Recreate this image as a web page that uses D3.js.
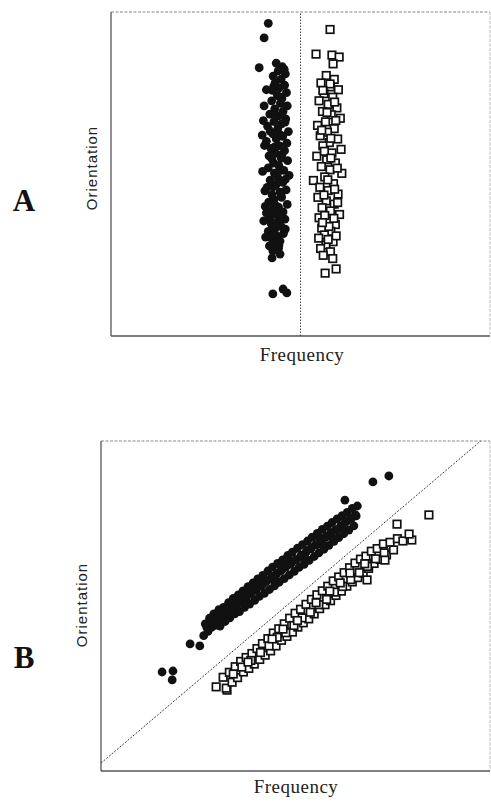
<!DOCTYPE html>
<html>
<head>
<meta charset="utf-8">
<script src="https://cdn.jsdelivr.net/npm/d3@7"></script>
<style>
  body { margin: 0; background: #fff; }
  svg { display: block; }
</style>
</head>
<body>
<div id="chart"></div>
<script>
// panel A: orientation vs frequency, two separated columns
const panelACircles = [
  [41.5,96.5],[40.4,92.0],[39.1,82.8],
  [43.6,84.2],[45.2,83.1],[44.1,81.8],[46.0,80.9],[42.8,80.2],[44.9,79.3],[43.3,78.1],[45.8,77.4],[44.4,76.6],[42.6,75.8],
  [46.3,75.1],[43.9,74.2],[45.1,73.3],[42.4,72.6],[44.7,71.8],[46.5,71.0],[43.2,70.1],[45.4,69.3],[41.9,68.5],[44.2,67.9],
  [46.1,67.0],[43.0,66.2],[45.0,65.5],[41.3,64.8],[44.0,64.0],[46.8,63.1],[42.7,62.4],[45.3,61.6],[43.6,60.8],[41.0,60.1],
  [46.4,59.5],[44.5,58.7],[42.2,57.9],[45.8,57.2],[43.4,56.4],[41.7,55.6],[44.9,54.9],[46.6,54.1],[42.9,53.4],[44.3,52.6],
  [41.5,51.9],[45.6,51.1],[43.1,50.3],[47.0,49.6],[44.0,48.9],[42.0,48.1],[45.3,47.4],[43.5,46.6],[41.2,45.9],[46.2,45.1],
  [44.6,44.4],[42.5,43.6],[45.0,42.8],[43.0,42.1],[41.6,41.3],[46.5,40.6],[44.2,39.8],[42.7,39.1],[45.4,38.3],[43.6,37.6],
  [41.9,36.8],[45.9,36.1],[44.1,35.3],[42.3,34.6],[44.9,33.8],[43.3,33.1],[41.5,32.3],[45.5,31.6],[43.8,30.8],[42.4,30.1],
  [44.6,29.3],[43.0,28.5],[41.8,27.8],[44.2,27.0],[42.7,26.3],[44.6,25.3],[42.5,24.1],
  [45.7,82.3],[42.9,77.0],[44.6,73.8],[43.0,68.8],[45.9,66.0],[42.0,63.2],[44.8,62.0],[43.1,58.3],[45.1,56.0],[42.4,54.8],
  [44.0,50.5],[46.0,48.3],[42.8,46.0],[44.9,43.2],[43.5,40.2],[41.0,38.0],[44.7,36.7],[43.0,35.0],[46.0,33.0],[42.8,31.2],
  [44.3,28.0],
  [40.2,66.5],[40.5,58.8],[40.0,50.8],[40.6,44.8],[40.3,35.5],[40.8,30.5],[39.9,62.0],[40.4,71.0],[41.0,76.0],[40.7,40.0],
  [42.7,13.0],[45.4,14.5],[46.4,13.3]
];

const panelASquares = [
  [57.8,94.6],[54.1,87.0],[58.3,86.7],[60.2,86.1],[58.6,84.0],
  [56.8,80.4],[58.9,79.2],[55.4,78.1],[57.9,76.9],[60.0,76.0],[56.2,74.8],[58.5,73.7],[54.9,72.6],[57.3,71.5],[59.6,70.4],
  [55.8,69.3],[58.1,68.3],[60.5,67.2],[56.6,66.1],[54.5,65.0],[58.9,64.0],[57.1,62.9],[55.2,61.8],[59.8,60.8],[57.6,59.7],
  [55.9,58.7],[60.7,57.6],[58.3,56.5],[54.3,55.5],[56.9,54.4],[59.2,53.4],[55.5,52.3],[57.8,51.3],[60.9,50.2],[56.4,49.1],
  [53.4,48.0],[58.7,47.0],[55.1,45.9],[57.3,44.9],[59.9,43.8],[54.6,42.8],[56.8,41.7],[58.9,40.7],[55.7,39.6],[57.9,38.6],
  [60.3,37.5],[54.9,36.5],[57.1,35.4],[59.2,34.4],[55.6,33.3],[58.0,32.3],[56.3,31.2],[54.8,30.2],[58.6,29.1],[56.7,28.1],
  [55.3,27.0],[57.9,26.0],[56.0,24.9],[58.5,23.9],
  [57.8,77.8],[55.9,75.8],[59.0,72.2],[57.0,69.0],[59.3,66.5],[55.6,63.5],[58.0,61.0],[56.3,57.0],[58.0,54.9],[59.7,51.8],
  [57.2,48.2],[59.0,45.3],[56.2,43.5],[59.8,41.2],[56.4,37.2],[58.8,36.3],[57.5,33.8],[59.4,30.9],[57.3,29.8],[55.8,35.0],
  [56.5,19.4],[59.4,20.7]
];

// panel B: both groups drift with frequency, either side of the diagonal
const panelBCircles = [
  [15.7,30.0],[18.5,30.3],[18.3,27.6],[22.9,38.5],[25.4,37.9],
  [26.4,41.0],[26.8,44.6],[27.5,42.3],[27.9,46.3],[28.4,43.5],[29.0,47.6],[29.3,44.1],[29.8,45.9],[30.3,48.9],[30.6,43.9],
  [31.1,46.2],[31.5,49.6],[31.9,45.3],[32.3,47.6],[32.8,51.0],[33.1,46.4],[33.6,48.8],[34.0,52.3],[34.4,47.6],[34.8,50.2],
  [35.3,53.4],[35.6,48.3],[36.1,51.2],[36.5,54.6],[36.9,49.6],[37.3,52.3],[37.8,55.9],[38.2,50.6],[38.6,53.8],[39.1,57.0],
  [39.5,51.7],[39.9,54.9],[40.3,58.2],[40.7,52.9],[41.2,56.0],[41.6,59.3],[42.0,53.8],[42.4,57.4],[42.9,60.6],[43.3,55.0],
  [43.7,58.3],[44.1,61.8],[44.6,56.1],[45.0,59.4],[45.4,62.9],[45.8,57.2],[46.3,60.7],[46.7,64.0],[47.1,58.3],[47.5,61.8],
  [48.0,65.3],[48.4,59.4],[48.8,62.7],[49.2,66.3],[49.7,60.5],[50.1,64.0],[50.5,67.5],[50.9,61.7],[51.4,65.2],[51.8,68.6],
  [52.2,62.6],[52.6,66.1],[53.1,69.7],[53.5,63.8],[53.9,67.3],[54.3,70.9],[54.8,65.0],[55.2,68.6],[55.6,72.0],[56.0,66.1],
  [56.5,69.7],[56.9,73.2],[57.3,67.2],[57.7,70.8],[58.2,74.2],[58.6,68.4],[59.0,72.0],[59.4,75.3],[59.9,69.6],[60.3,73.1],
  [60.7,76.4],[61.1,70.7],[61.6,74.2],[62.0,77.4],[62.4,71.9],[62.8,75.5],[63.3,78.4],[63.7,73.0],[64.1,76.5],[64.6,79.6],
  [65.0,74.3],[65.4,77.6],[65.9,80.3],
  [27.2,43.5],[28.7,45.3],[30.0,47.0],[31.3,47.9],[32.6,49.0],[33.9,49.7],[35.1,51.4],[36.3,52.2],[37.6,53.2],[38.9,54.7],
  [40.1,55.7],[41.4,56.4],[42.7,57.6],[44.0,59.0],[45.2,59.9],[46.5,61.0],[47.8,62.4],[49.0,63.4],[50.3,64.1],[51.6,65.4],
  [52.9,66.8],[54.1,67.7],[55.4,68.5],[56.7,69.8],[58.0,71.2],[59.2,72.2],[60.5,73.0],[61.8,74.0],[63.0,75.5],[64.3,76.4],
  [65.6,77.3],
  [33.5,50.8],[37.0,54.0],[41.0,57.8],[44.8,58.0],[48.2,64.5],[52.4,64.0],[55.9,71.0],[59.6,70.5],[62.6,73.0],[46.0,62.5],
  [39.8,56.5],[57.0,68.5],
  [62.7,82.1],[69.9,87.6],[74.0,89.4]
];

const panelBSquares = [
  [29.6,25.5],[32.4,24.5],
  [31.4,28.4],[32.2,25.1],[33.0,29.9],[33.7,26.9],[34.5,31.6],[35.1,28.3],[35.9,33.2],[36.6,30.0],[37.3,34.4],[38.0,31.1],
  [38.8,35.6],[39.4,32.4],[40.1,37.1],[40.8,33.8],[41.5,38.6],[42.2,35.1],[42.9,40.1],[43.6,36.4],[44.3,41.8],[45.0,37.9],
  [45.7,43.1],[46.4,39.6],[47.1,44.6],[47.8,40.8],[48.5,46.3],[49.2,42.1],[49.9,47.8],[50.6,43.6],[51.3,49.0],[52.0,44.9],
  [52.7,50.5],[53.4,46.1],[54.1,52.0],[54.8,47.6],[55.5,53.4],[56.2,49.2],[56.9,54.6],[57.6,50.4],[58.3,56.0],[59.0,51.6],
  [59.7,57.6],[60.4,53.2],[61.1,58.8],[61.8,54.5],[62.5,60.1],[63.2,56.0],[63.9,61.6],[64.6,57.3],[65.3,63.0],[66.0,58.6],
  [66.7,64.2],[67.4,60.0],[68.1,65.1],[68.8,61.4],[69.5,66.6],[70.2,62.9],[71.0,67.4],[71.8,64.1],[72.6,68.8],[73.4,65.5],
  [74.3,69.3],[75.2,67.0],[76.2,70.4],
  [34.0,29.4],[36.2,31.5],[38.5,33.5],[41.0,35.9],[43.2,37.9],[45.3,40.5],[47.5,41.9],[49.6,44.1],[51.7,46.4],[53.8,48.1],
  [56.0,50.4],[58.0,52.0],[60.0,54.2],[62.1,55.9],[64.2,58.0],[66.4,60.1],[68.5,62.0],[70.6,64.3],[72.8,66.1],
  [37.8,33.0],[44.0,40.0],[50.5,45.6],[55.3,51.0],[61.5,57.0],[67.8,62.8],[46.8,43.0],[58.8,54.5],[64.0,60.0],
  [68.4,57.9],[73.0,63.9],[77.6,69.7],[79.9,70.0],[79.2,71.8],[76.1,74.8],[84.3,77.6]
];

const panelAMidline = [[50, 0], [50, 100]];
const panelBDiagonal = [[0, 2.4], [97.6, 100]];

const panelLetters = ["A", "B"];
const xLabel = "Frequency";
const yLabel = "Orientation";

let width = 491;
let height = 803;

let svg = d3.select("#chart").append("svg")
    .attr("width", width)
    .attr("height", height);

let panels = [
    { letter: panelLetters[0], left: 111, right: 490, top: 12, bottom: 336,
      circles: panelACircles, squares: panelASquares, ref: panelAMidline,
      refDash: "1.5,1.5", letterY: 211, yLabelX: 97, yLabelY: 168, xLabelX: 302, xLabelY: 361 },
    { letter: panelLetters[1], left: 101, right: 490, top: 441, bottom: 771,
      circles: panelBCircles, squares: panelBSquares, ref: panelBDiagonal,
      refDash: "2,1.5", letterY: 668, yLabelX: 87, yLabelY: 605, xLabelX: 296, xLabelY: 793 }
];

panels.forEach(p => {
    let x = d3.scaleLinear().domain([0, 100]).range([p.left, p.right]);
    let y = d3.scaleLinear().domain([0, 100]).range([p.bottom, p.top]);
    let g = svg.append("g").attr("class", "panel");

    // frame: solid left/bottom, faint dotted top/right
    g.append("line")
        .attr("x1", p.left).attr("x2", p.right)
        .attr("y1", p.top).attr("y2", p.top)
        .attr("stroke", "#888").attr("stroke-width", 1)
        .attr("stroke-dasharray", "3,1.5");
    g.append("line")
        .attr("x1", p.right).attr("x2", p.right)
        .attr("y1", p.top).attr("y2", p.bottom)
        .attr("stroke", "#bbb").attr("stroke-width", 1)
        .attr("stroke-dasharray", "3,1.5");
    g.append("line")
        .attr("x1", p.left).attr("x2", p.left)
        .attr("y1", p.top).attr("y2", p.bottom)
        .attr("stroke", "#555").attr("stroke-width", 1.3);
    g.append("line")
        .attr("x1", p.left).attr("x2", p.right)
        .attr("y1", p.bottom).attr("y2", p.bottom)
        .attr("stroke", "#555").attr("stroke-width", 1.3);

    let line = d3.line().x(d => x(d[0])).y(d => y(d[1]));
    g.append("path")
        .datum(p.ref)
        .attr("d", line)
        .attr("fill", "none")
        .attr("stroke", "#444")
        .attr("stroke-width", 1)
        .attr("stroke-dasharray", p.refDash);

    g.selectAll(".dot")
        .data(p.circles)
      .enter().append("circle")
        .attr("class", "dot")
        .attr("cx", d => x(d[0]))
        .attr("cy", d => y(d[1]))
        .attr("r", 4.4)
        .attr("fill", "#111");

    let s = 7.5;
    g.selectAll(".sq")
        .data(p.squares)
      .enter().append("rect")
        .attr("class", "sq")
        .attr("x", d => x(d[0]) - s / 2)
        .attr("y", d => y(d[1]) - s / 2)
        .attr("width", s)
        .attr("height", s)
        .attr("fill", "#fff")
        .attr("stroke", "#111")
        .attr("stroke-width", 1.7);

    g.append("text")
        .attr("x", p.xLabelX)
        .attr("y", p.xLabelY)
        .attr("text-anchor", "middle")
        .style("font-family", "'Liberation Serif', 'Times New Roman', serif")
        .style("font-size", "19px")
        .style("letter-spacing", "0.5px")
        .attr("fill", "#222")
        .text(xLabel);

    g.append("text")
        .attr("transform", `translate(${p.yLabelX},${p.yLabelY}) rotate(-90)`)
        .attr("text-anchor", "middle")
        .style("font-family", "'Liberation Sans', Arial, sans-serif")
        .style("font-size", "15px")
        .style("letter-spacing", "1px")
        .attr("fill", "#222")
        .text(yLabel);

    g.append("text")
        .attr("x", 24)
        .attr("y", p.letterY)
        .attr("text-anchor", "middle")
        .style("font-family", "'Liberation Serif', 'Times New Roman', serif")
        .style("font-size", "31px")
        .style("font-weight", "bold")
        .attr("fill", "#111")
        .text(p.letter);
});
</script>
</body>
</html>
